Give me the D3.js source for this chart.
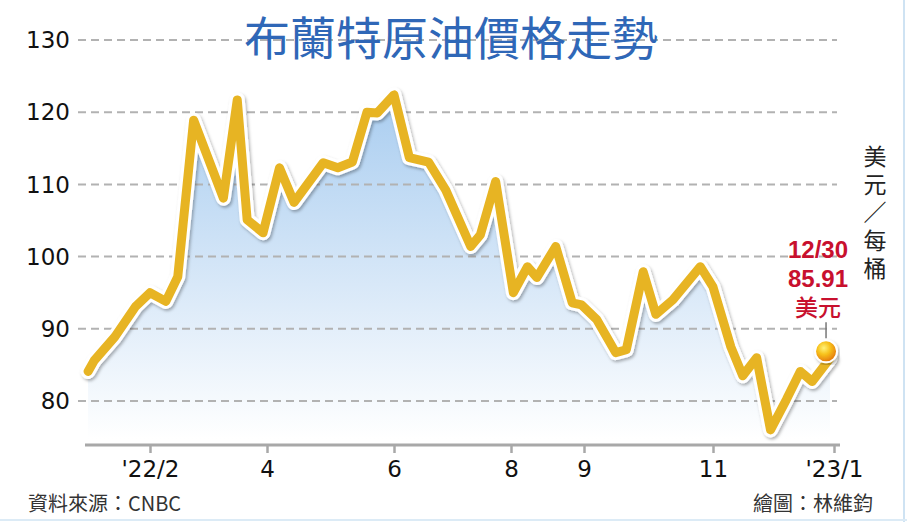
<!DOCTYPE html>
<html>
<head>
<meta charset="utf-8">
<script src="https://cdn.jsdelivr.net/npm/d3@7"></script>
<style>
  body { margin: 0; background: #fff; }
  svg { display: block; }
</style>
</head>
<body>
<div class="chart"></div>
<script>
// weekly-ish Brent prices (USD / barrel)
const dates = ["2022-01-02","2022-01-05","2022-01-15","2022-01-25","2022-02-01",
  "2022-02-09","2022-02-15","2022-02-23","2022-03-10","2022-03-17",
  "2022-03-22","2022-03-30","2022-04-07","2022-04-14","2022-04-28",
  "2022-05-05","2022-05-12","2022-05-19","2022-05-24","2022-06-01",
  "2022-06-09","2022-06-19","2022-06-28","2022-07-11","2022-07-16",
  "2022-07-24","2022-08-02","2022-08-08","2022-08-12","2022-08-20",
  "2022-08-27","2022-08-31","2022-09-07","2022-09-16","2022-09-21",
  "2022-09-29","2022-10-05","2022-10-13","2022-10-26","2022-11-01",
  "2022-11-10","2022-11-16","2022-11-23","2022-11-30","2022-12-08",
  "2022-12-15","2022-12-21","2022-12-30"]
const prices = [84.1,85.6,88.9,93.1,95.0,
  93.8,97.2,118.9,108.1,121.7,
  105.1,103.3,112.3,107.5,113.0,
  112.3,113.1,120.0,119.9,122.4,
  113.7,113.1,109.2,101.4,103.0,
  110.4,95.0,98.6,97.1,101.4,
  93.6,93.3,91.3,86.7,87.1,
  97.9,92.0,94.0,98.6,95.8,
  87.5,83.5,86.0,76.0,80.2,
  84.1,82.7,85.91]

const yTicks = [80, 90, 100, 110, 120, 130]
const xTickDates = ["2022-02-01","2022-04-01","2022-06-01","2022-08-01","2022-09-01","2022-11-01","2023-01-01"]
const xTickLabels = ["'22/2","4","6","8","9","11","'23/1"]

const title = "布蘭特原油價格走勢"
const unitLabel = "美元／每桶"
const lastLabel = ["12/30", "85.91", "美元"]
const source = "資料來源：CNBC"
const credit = "繪圖：林維鈞"

const width = 907
const height = 522
const parse = d3.timeParse("%Y-%m-%d")
const data = dates.map((d, i) => ({ date: parse(d), value: prices[i] }))

const svg = d3.select('.chart')
    .append('svg')
    .attr('width', width)
    .attr('height', height)

const defs = svg.append('defs')

const areaGrad = defs.append('linearGradient')
    .attr('id', 'areaGrad')
    .attr('x1', 0).attr('y1', 0).attr('x2', 0).attr('y2', 1)
areaGrad.append('stop').attr('offset', '0%').attr('stop-color', '#a9cdf0')
areaGrad.append('stop').attr('offset', '55%').attr('stop-color', '#d8e8f8')
areaGrad.append('stop').attr('offset', '100%').attr('stop-color', '#ffffff')

const dotGrad = defs.append('radialGradient')
    .attr('id', 'dotGrad')
    .attr('cx', '40%').attr('cy', '35%').attr('r', '65%')
dotGrad.append('stop').attr('offset', '0%').attr('stop-color', '#fff27a')
dotGrad.append('stop').attr('offset', '45%').attr('stop-color', '#f7c21c')
dotGrad.append('stop').attr('offset', '100%').attr('stop-color', '#e4760c')

const shadow = defs.append('filter')
    .attr('id', 'shadow')
    .attr('x', '-10%').attr('y', '-10%').attr('width', '120%').attr('height', '120%')
shadow.append('feDropShadow')
    .attr('dx', 1.5).attr('dy', 2)
    .attr('stdDeviation', 1.6)
    .attr('flood-color', '#000')
    .attr('flood-opacity', 0.3)

// frame
svg.append('line')
    .attr('x1', width - 3).attr('x2', width - 3)
    .attr('y1', 0).attr('y2', height)
    .attr('stroke', '#cfe3f3').attr('stroke-width', 2)
svg.append('line')
    .attr('x1', 0).attr('x2', width)
    .attr('y1', height - 2).attr('y2', height - 2)
    .attr('stroke', '#dcebf6').attr('stroke-width', 2)

// scales (month ticks in the original are not evenly spaced)
const x = d3.scaleTime()
    .domain([parse("2022-01-01")].concat(xTickDates.map(parse)))
    .range([86, 150, 267, 394, 511, 584, 713, 834])

const y = d3.scaleLinear()
    .domain([80, 130])
    .range([401, 40])

const axisY = 445

// area
const area = d3.area()
    .x(d => x(d.date))
    .y0(axisY - 6)
    .y1(d => y(d.value))

svg.append('path')
    .datum(data)
    .attr('d', area)
    .attr('fill', 'url(#areaGrad)')

// grid
svg.append('g')
    .selectAll('line')
    .data(yTicks)
    .enter()
    .append('line')
    .attr('x1', 78)
    .attr('x2', 837)
    .attr('y1', d => y(d))
    .attr('y2', d => y(d))
    .attr('stroke', '#b2b2b2')
    .attr('stroke-width', 2)
    .attr('stroke-dasharray', '8,5')

svg.append('g')
    .selectAll('text')
    .data(yTicks)
    .enter()
    .append('text')
    .attr('x', 70)
    .attr('y', d => y(d))
    .attr('dy', '0.36em')
    .attr('text-anchor', 'end')
    .attr('font-family', 'DejaVu Sans')
    .attr('font-size', 23)
    .attr('fill', '#111')
    .text(d => d)

// title
svg.append('text')
    .attr('x', 451)
    .attr('y', 55)
    .attr('text-anchor', 'middle')
    .attr('font-family', 'Noto Sans CJK TC')
    .attr('font-weight', 400)
    .attr('font-size', 46)
    .attr('fill', '#2f67b7')
    .text(title)

// x axis
const xAxis = svg.append('g')
    .attr('transform', `translate(0,${axisY})`)
    .call(d3.axisBottom(x)
        .tickValues(xTickDates.map(parse))
        .tickFormat((d, i) => xTickLabels[i])
        .tickSize(8)
        .tickSizeOuter(0)
        .tickPadding(8))

xAxis.select('.domain')
    .attr('d', 'M85,0H840')
    .attr('stroke', '#a8a8a8')
    .attr('stroke-width', 3)
xAxis.selectAll('.tick line')
    .attr('stroke', '#a8a8a8')
    .attr('stroke-width', 2.5)
xAxis.selectAll('.tick text')
    .attr('font-family', 'DejaVu Sans')
    .attr('font-size', 23)
    .attr('fill', '#111')

// price line with white outline and soft shadow
const line = d3.line()
    .x(d => x(d.date))
    .y(d => y(d.value))
    .curve(d3.curveLinear)

svg.append('path')
    .datum(data)
    .attr('d', line)
    .attr('fill', 'none')
    .attr('stroke', '#fff')
    .attr('stroke-width', 15)
    .attr('stroke-linejoin', 'round')
    .attr('stroke-linecap', 'round')
    .attr('filter', 'url(#shadow)')

svg.append('path')
    .datum(data)
    .attr('d', line)
    .attr('fill', 'none')
    .attr('stroke', '#e7b423')
    .attr('stroke-width', 9)
    .attr('stroke-linejoin', 'round')
    .attr('stroke-linecap', 'round')

// last point marker
const last = data[data.length - 1]
const lx = x(last.date)
const ly = y(last.value)

svg.append('line')
    .attr('x1', lx - 4).attr('x2', lx - 4)
    .attr('y1', ly - 36).attr('y2', ly - 20)
    .attr('stroke', '#777')
    .attr('stroke-width', 1.5)

svg.append('circle')
    .attr('cx', lx - 4)
    .attr('cy', ly - 7)
    .attr('r', 11)
    .attr('fill', 'url(#dotGrad)')
    .attr('stroke', '#fff')
    .attr('stroke-width', 2)
    .attr('filter', 'url(#shadow)')

svg.append('g')
    .selectAll('text')
    .data(lastLabel)
    .enter()
    .append('text')
    .attr('x', lx - 12)
    .attr('y', (d, i) => ly - 100 + i * 29)
    .attr('text-anchor', 'middle')
    .attr('font-family', (d, i) => i < 2 ? 'Liberation Sans' : 'Noto Sans CJK TC')
    .attr('font-weight', (d, i) => i < 2 ? 700 : 500)
    .attr('font-size', (d, i) => i < 2 ? 24 : 23)
    .attr('fill', '#c8102e')
    .text(d => d)

// unit label, written vertically
svg.append('text')
    .attr('x', 875)
    .attr('y', 145)
    .attr('writing-mode', 'vertical-rl')
    .attr('font-family', 'Noto Sans CJK TC')
    .attr('font-size', 23)
    .attr('letter-spacing', 5)
    .attr('fill', '#222')
    .text(unitLabel)

// footer
svg.append('text')
    .attr('x', 28)
    .attr('y', 511)
    .attr('font-family', 'Noto Sans CJK TC')
    .attr('font-size', 20)
    .attr('fill', '#333')
    .text(source)

svg.append('text')
    .attr('x', 873)
    .attr('y', 511)
    .attr('text-anchor', 'end')
    .attr('font-family', 'Noto Sans CJK TC')
    .attr('font-size', 20)
    .attr('fill', '#333')
    .text(credit)
</script>
</body>
</html>
